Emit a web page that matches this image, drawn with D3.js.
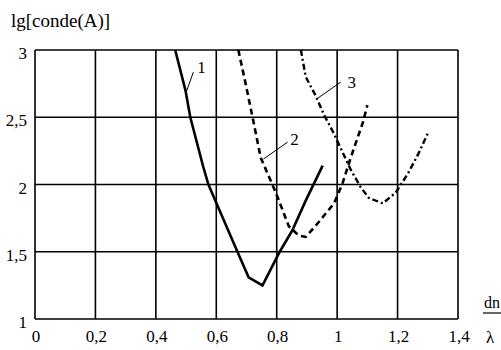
<!DOCTYPE html>
<html>
<head>
<meta charset="utf-8">
<script src="https://cdn.jsdelivr.net/npm/d3@7"></script>
<style>
  body { margin: 0; background: #fff; }
</style>
</head>
<body>
<div id="chart"></div>
<script>
var width = 501,
    height = 350,
    margins = {top: 50, right: 44, bottom: 31, left: 35},
    serif = 'Liberation Serif, serif'

// ticks
var xTicks = [0, 0.2, 0.4, 0.6, 0.8, 1, 1.2, 1.4]
var yTicks = [1, 1.5, 2, 2.5, 3]

// curve 1 (solid)
var curve1X = [0.464, 0.498, 0.514, 0.557, 0.574, 0.597, 0.67, 0.707, 0.753, 0.81, 0.852, 0.896, 0.952]
var curve1Y = [3.0, 2.70, 2.5, 2.13, 2.0, 1.88, 1.5, 1.31, 1.25, 1.5, 1.66, 1.88, 2.14]

// curve 2 (dashed)
var curve2X = [0.673, 0.697, 0.72, 0.747, 0.797, 0.84, 0.873, 0.896, 0.935, 0.99, 1.018, 1.045, 1.085, 1.10]
var curve2Y = [3.0, 2.75, 2.5, 2.2, 1.94, 1.69, 1.62, 1.61, 1.71, 1.86, 2.01, 2.2, 2.46, 2.59]

// curve 3 (dash-dot)
var curve3X = [0.88, 0.896, 0.929, 0.956, 0.989, 1.018, 1.045, 1.078, 1.105, 1.151, 1.194, 1.234, 1.267, 1.30]
var curve3Y = [3.0, 2.8, 2.66, 2.52, 2.38, 2.24, 2.11, 1.98, 1.90, 1.86, 1.94, 2.08, 2.22, 2.38]

// curve labels with leader lines (data coords)
var labelText = ['1', '2', '3']
var labelX = [0.551, 0.859, 1.048]
var labelY = [2.83, 2.293, 2.716]
var leaderX1 = [0.501, 0.756, 0.936]
var leaderY1 = [2.69, 2.189, 2.642]
var leaderX2 = [0.524, 0.836, 1.012]
var leaderY2 = [2.835, 2.315, 2.761]

var fmt = function(d) { return String(d).replace('.', ',') }

var svg = d3.select('#chart').append('svg')
    .attr('width', width)
    .attr('height', height)
    .attr('font-family', serif)

var x = d3.scaleLinear()
    .domain([0, 1.4])
    .range([margins.left, width - margins.right + 1])

var y = d3.scaleLinear()
    .domain([1, 3])
    .range([height - margins.bottom, margins.top])

// grid
svg.append('g')
    .selectAll('line')
    .data(xTicks)
    .enter().append('line')
    .attr('x1', function(d) { return x(d) })
    .attr('x2', function(d) { return x(d) })
    .attr('y1', y(1))
    .attr('y2', y(3))
    .attr('stroke', '#000')
    .attr('stroke-width', 1.6)

svg.append('g')
    .selectAll('line')
    .data(yTicks)
    .enter().append('line')
    .attr('x1', x(0))
    .attr('x2', x(1.4))
    .attr('y1', function(d) { return y(d) })
    .attr('y2', function(d) { return y(d) })
    .attr('stroke', '#000')
    .attr('stroke-width', 1.6)

// tick labels
svg.append('g')
    .selectAll('text')
    .data(xTicks)
    .enter().append('text')
    .attr('x', function(d) { return x(d) + 1 })
    .attr('y', y(1) + 23)
    .attr('text-anchor', 'middle')
    .attr('font-size', 17)
    .text(fmt)

svg.append('g')
    .selectAll('text')
    .data(yTicks)
    .enter().append('text')
    .attr('x', x(0) - 8)
    .attr('y', function(d) { return y(d) + 9 })
    .attr('text-anchor', 'end')
    .attr('font-size', 17)
    .text(fmt)

// axis titles
svg.append('text')
    .attr('x', 11)
    .attr('y', 27)
    .attr('font-size', 19)
    .text('lg[conde(A)]')

svg.append('text')
    .attr('x', 492)
    .attr('y', 308)
    .attr('text-anchor', 'middle')
    .attr('font-size', 16)
    .text('dn')

svg.append('line')
    .attr('x1', 483).attr('x2', 501)
    .attr('y1', 313).attr('y2', 313)
    .attr('stroke', '#000')
    .attr('stroke-width', 1.2)

svg.append('text')
    .attr('x', 490)
    .attr('y', 343)
    .attr('text-anchor', 'middle')
    .attr('font-size', 17)
    .text('λ')

// curves
var line = d3.line()
    .x(function(d) { return x(d[0]) })
    .y(function(d) { return y(d[1]) })

var curves = [
    {xs: curve1X, ys: curve1Y, width: 2.6, dash: null},
    {xs: curve2X, ys: curve2Y, width: 2.6, dash: '6,4'},
    {xs: curve3X, ys: curve3Y, width: 2.4, dash: '6,3,2,3'}
]

curves.forEach(function(c) {
    svg.append('path')
        .datum(d3.zip(c.xs, c.ys))
        .attr('d', line)
        .attr('fill', 'none')
        .attr('stroke', '#000')
        .attr('stroke-width', c.width)
        .attr('stroke-dasharray', c.dash)
})

// labels
labelText.forEach(function(t, i) {
    svg.append('line')
        .attr('x1', x(leaderX1[i])).attr('y1', y(leaderY1[i]))
        .attr('x2', x(leaderX2[i])).attr('y2', y(leaderY2[i]))
        .attr('stroke', '#000')
        .attr('stroke-width', 1)
    svg.append('text')
        .attr('x', x(labelX[i]))
        .attr('y', y(labelY[i]))
        .attr('text-anchor', 'middle')
        .attr('font-size', 17)
        .text(t)
})
</script>
</body>
</html>
